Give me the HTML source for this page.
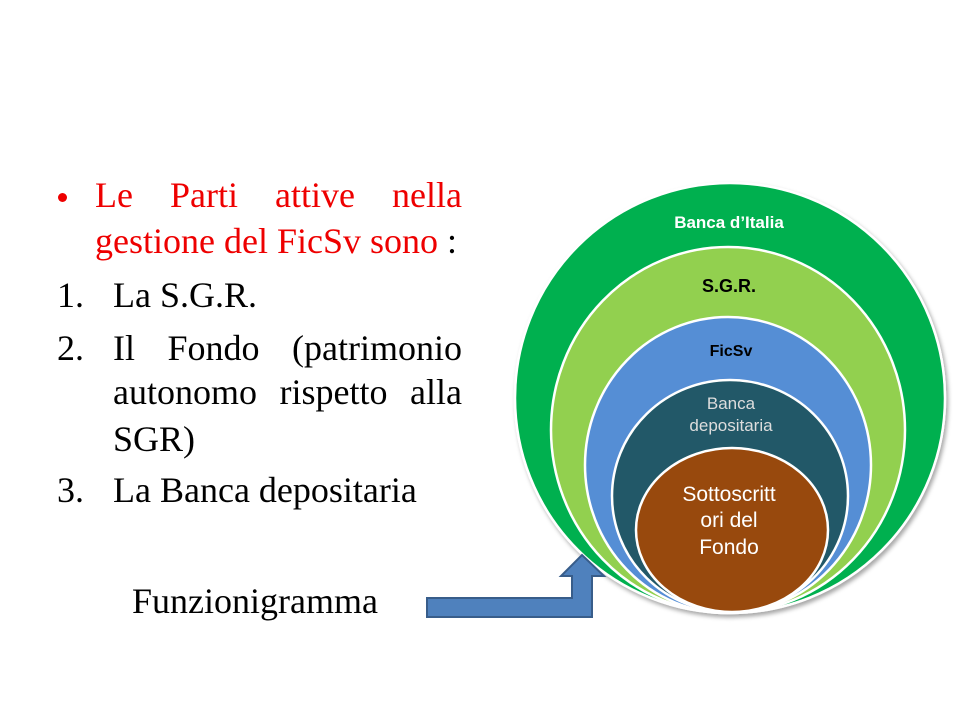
<!DOCTYPE html>
<html><head><meta charset="utf-8"><style>
body{margin:0;width:960px;height:720px;background:#fff;position:relative;overflow:hidden;font-family:"Liberation Serif",serif;}
.t{position:absolute;font-size:36px;line-height:1;white-space:nowrap;}
.j{position:absolute;font-size:36px;line-height:1;text-align:justify;text-align-last:justify;}
</style></head><body>
<div style="position:absolute;left:58px;top:193px;width:9px;height:9px;border-radius:50%;background:#e00"></div>
<div class="j" style="left:95px;top:177px;width:367px;color:#e00">Le Parti attive nella</div>
<div class="t" style="left:95px;top:223px;color:#e00">gestione del FicSv sono <span style="color:#000">:</span></div>
<div class="t" style="left:57px;top:277px">1.</div><div class="t" style="left:113px;top:277px">La S.G.R.</div>
<div class="t" style="left:57px;top:330px">2.</div>
<div class="j" style="left:113px;top:330px;width:349px">Il Fondo (patrimonio</div>
<div class="j" style="left:113px;top:374px;width:349px">autonomo rispetto alla</div>
<div class="t" style="left:113px;top:421px">SGR)</div>
<div class="t" style="left:57px;top:472px">3.</div><div class="t" style="left:113px;top:472px">La Banca depositaria</div>
<div class="t" style="left:132px;top:583px">Funzionigramma</div>
<svg width="960" height="720" style="position:absolute;left:0;top:0">
<defs><filter id="s" x="-10%" y="-10%" width="120%" height="120%"><feDropShadow dx="2" dy="3" stdDeviation="2" flood-opacity="0.35"/></filter></defs>
<g stroke="#fff" stroke-width="2.5" filter="url(#s)">
<ellipse cx="730" cy="398" rx="215" ry="215" fill="#00b050"/>
<ellipse cx="728" cy="430" rx="177" ry="183" fill="#92d050"/>
<ellipse cx="728" cy="465" rx="143" ry="148" fill="#558ed5"/>
<ellipse cx="730" cy="496" rx="118" ry="116" fill="#215968"/>
<ellipse cx="732" cy="530" rx="96" ry="82" fill="#984807"/>
</g>
<g font-family="'Liberation Sans',sans-serif" text-anchor="middle">
<text x="729" y="228" fill="#fff" font-size="17" font-weight="bold">Banca d’Italia</text>
<text x="729" y="292" fill="#000" font-size="18" font-weight="bold">S.G.R.</text>
<text x="731" y="356" fill="#000" font-size="16" font-weight="bold">FicSv</text>
<text x="731" y="409" fill="#ddd" font-size="17">Banca</text>
<text x="731" y="431" fill="#ddd" font-size="17">depositaria</text>
<text x="729" y="501" fill="#fff" font-size="21">Sottoscritt</text>
<text x="729" y="527" fill="#fff" font-size="21">ori del</text>
<text x="729" y="554" fill="#fff" font-size="21">Fondo</text>
</g>
<path d="M427 598 H572 V576 H561 L582 555 L604 576 H592 V617 H427 Z" fill="#4f81bd" stroke="#385d8a" stroke-width="2"/>
</svg>
</body></html>
